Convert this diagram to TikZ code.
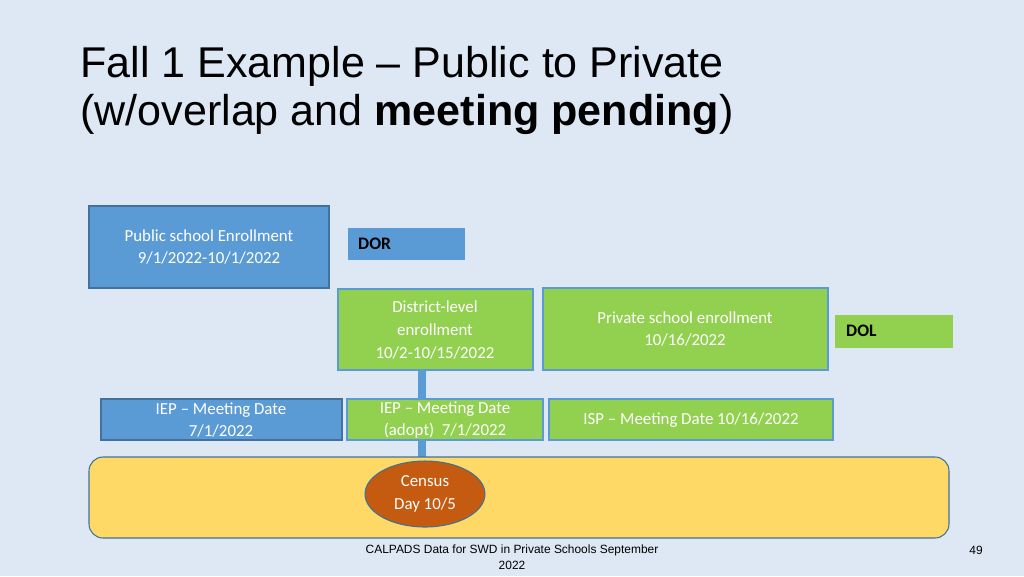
\documentclass[tikz,border=0pt]{standalone}
\usepackage{fontspec}
\setmainfont{Carlito}
\newfontfamily\arial{Liberation Sans}
\usetikzlibrary{shapes.geometric}
\definecolor{bg}{HTML}{DDE8F4}
\definecolor{bl}{HTML}{5B9BD5}
\definecolor{blb}{HTML}{41719C}
\definecolor{gr}{HTML}{92D050}
\definecolor{ye}{HTML}{FFD966}
\definecolor{or}{HTML}{C55A11}
\tikzset{
 px/.style={x=0.02cm,y=-0.02cm},
 bbox/.style={draw=blb,fill=bl,line width=0.6pt,text=white,font=\fontsize{9.6}{13}\selectfont,align=center,inner sep=0pt},
 gbox/.style={draw=bl,fill=gr,line width=0.6pt,text=white,font=\fontsize{9.6}{13}\selectfont,align=center,inner sep=0pt},
 lab/.style={font=\bfseries\fontsize{10}{12}\selectfont,text=black,anchor=west}
}
\begin{document}
\begin{tikzpicture}[px]
\fill[bg] (0,0) rectangle (1024,576);
\useasboundingbox (0,0) rectangle (1024,576);
\node[anchor=base west,font=\arial\fontsize{24.5}{27}\selectfont,inner sep=0pt] (t1) at (80,77) {Fall 1 Example – Public to Private};
\node[anchor=base west,font=\arial\fontsize{24.5}{27}\selectfont,inner sep=0pt] (t2) at (80,125) {(w/overlap and \textbf{meeting pending})};
\draw[bbox] (89,206) rectangle (329,288);
\node[bbox,draw=none,fill=none] (pub) at (209,247) {Public school Enrollment\\9/1/2022-10/1/2022};
\fill[bl] (348,228) rectangle (465,260);
\node[lab] (dor) at (352,244) {DOR};
\draw[gbox] (338,289) rectangle (533,370);
\node[gbox,draw=none,fill=none] (dist) at (435,330) {District-level\\enrollment\\10/2-10/15/2022};
\draw[gbox] (543,288) rectangle (828,370);
\node[gbox,draw=none,fill=none] (priv) at (685,329) {Private school enrollment\\10/16/2022};
\fill[gr] (835,315) rectangle (953,348);
\node[lab] (dol) at (840,331) {DOL};
\fill[bl] (418,370) rectangle (426,460);
\draw[bbox] (101,399) rectangle (342,440);
\node[bbox,draw=none,fill=none] (iep1) at (221,420) {IEP – Meeting Date\\7/1/2022};
\draw[gbox] (347,399) rectangle (543,440);
\node[gbox,draw=none,fill=none] (iep2) at (445,420) {IEP – Meeting Date\\(adopt)\ \ 7/1/2022};
\draw[gbox] (549,399) rectangle (833,440);
\node[gbox,draw=none,fill=none] (isp) at (691,420) {ISP – Meeting Date 10/16/2022};
\draw[draw=blb,fill=ye,line width=0.6pt,rounded corners=8pt] (89,457) rectangle (949,538);
\node[ellipse,draw=blb,fill=or,text=white,minimum width=2.4cm,minimum height=1.32cm,inner sep=0pt,align=center,font=\fontsize{9.6}{13}\selectfont,line width=0.6pt] (cen) at (425,494) {Census\\Day 10/5};
\node[font=\arial\fontsize{6.8}{9}\selectfont,align=center] (foot) at (512,557) {CALPADS Data for SWD in Private Schools September\\2022};
\node[font=\arial\fontsize{6.8}{9}\selectfont] (pg) at (976,550) {49};
\end{tikzpicture}
\end{document}
